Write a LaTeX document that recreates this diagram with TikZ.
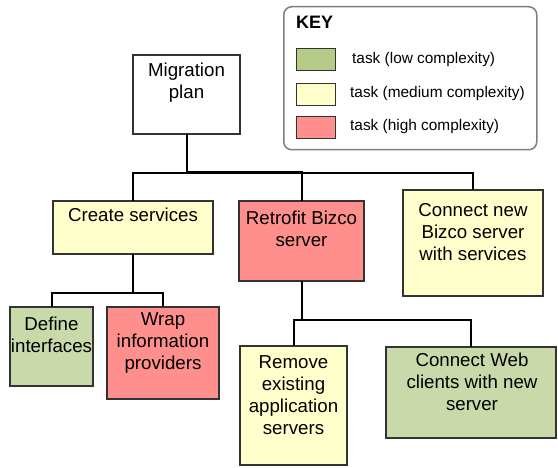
\documentclass[tikz,border=0pt]{standalone}
\usepackage{fontspec}
\setmainfont{Liberation Sans}
\definecolor{lowc}{HTML}{CAD9A9}
\definecolor{lowkey}{HTML}{B6CB88}
\definecolor{medc}{HTML}{FFFFCC}
\definecolor{highc}{HTML}{FF8F8C}
\definecolor{bord}{HTML}{333333}
\definecolor{keybord}{HTML}{7F7F7F}
\tikzset{
  box/.style={draw=bord, line width=1.1pt, inner sep=0pt, outer sep=0pt, anchor=north west},
  lbl/.style={anchor=north, align=center, inner sep=0pt, font=\fontsize{18.7}{22}\selectfont},
  conn/.style={draw=black, line width=2pt},
  swatch/.style={draw=bord, line width=1pt, inner sep=0pt, anchor=north west, minimum width=39pt, minimum height=22pt},
  keytxt/.style={anchor=west, inner sep=0pt, font=\fontsize{15.4}{18}\selectfont},
}
\begin{document}
\begin{tikzpicture}[x=1pt, y=-1pt]
\useasboundingbox (0,0) rectangle (558,468);
% key
\node[draw=keybord, line width=1.5pt, rounded corners=8pt, anchor=north west, inner sep=0pt,
      minimum width=253pt, minimum height=143pt] (key) at (283,6) {};
\node[anchor=north west, inner sep=0pt, font=\fontsize{18}{20}\bfseries\selectfont] (keyt) at (296,16) {KEY};
\node[swatch, fill=lowkey] (sw1) at (296,48) {};
\node[swatch, fill=medc] (sw2) at (296,83) {};
\node[swatch, fill=highc] (sw3) at (296,116) {};
\node[keytxt] (k1) at (352,60) {task (low complexity)};
\node[keytxt] (k2) at (350,94) {task (medium complexity)};
\node[keytxt] (k3) at (350,127) {task (high complexity)};
% boxes
\node[box, fill=white, minimum width=107pt, minimum height=79pt] (mig) at (133,55) {};
\node[box, fill=medc, minimum width=160pt, minimum height=53pt] (cs) at (53,201) {};
\node[box, fill=highc, minimum width=125pt, minimum height=80pt] (rb) at (239,201) {};
\node[box, fill=medc, minimum width=140pt, minimum height=106pt] (cn) at (403,190) {};
\node[box, fill=lowc, minimum width=83pt, minimum height=79pt] (di) at (10,307) {};
\node[box, fill=highc, minimum width=112pt, minimum height=92pt] (wi) at (107,307) {};
\node[box, fill=medc, minimum width=107pt, minimum height=119pt] (re) at (240,346) {};
\node[box, fill=lowc, minimum width=170pt, minimum height=91pt] (cw) at (386,347) {};
% labels
\node[lbl] (migt) at (186.5,63) {Migration\\plan};
\node[lbl] (cst) at (133,208) {Create services};
\node[lbl] (rbt) at (301.5,211) {Retrofit Bizco\\server};
\node[lbl] (cnt) at (473,203) {Connect new\\Bizco server\\with services};
\node[lbl] (dit) at (51.5,317) {Define\\interfaces};
\node[lbl] (wit) at (163,312) {Wrap\\information\\providers};
\node[lbl] (ret) at (293.5,355) {Remove\\existing\\application\\servers};
\node[lbl] (cwt) at (472,353) {Connect Web\\clients with new\\server};
% connectors
\draw[conn] (mig.south) -- ++(0,38) -| (rb.north);
\draw[conn] (mig.south) -- ++(0,39.5) -| (cs.north);
\draw[conn] (mig.south) -- ++(0,39.5) -| (cn.north);
\draw[conn] (cs.south) -- ++(0,39) -| (di.north);
\draw[conn] (cs.south) -- ++(0,39) -| (wi.north);
\draw[conn] (rb.south) -- ++(0,39) -| (re.north);
\draw[conn] (rb.south) -- ++(0,39) -| (cw.north);
\end{tikzpicture}
\end{document}
